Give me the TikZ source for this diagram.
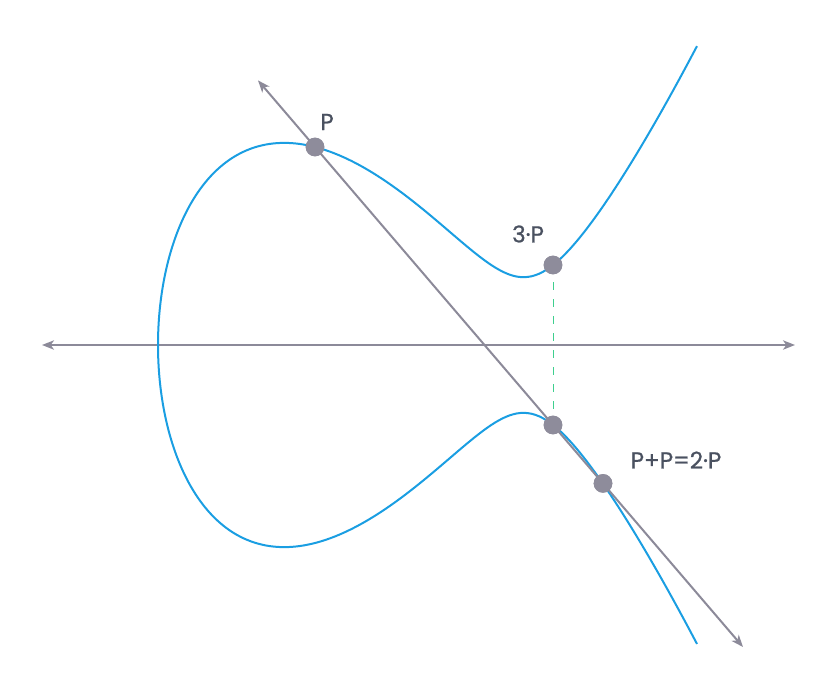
\documentclass[tikz,border=0pt]{standalone}
\usepackage{fontspec}
\setmainfont{Poppins}
\newfontfamily\lblfont{Poppins}[FakeBold=0.8]
\usetikzlibrary{arrows.meta}
\definecolor{curveblue}{HTML}{1A9EE2}
\definecolor{axisgray}{HTML}{8C8A99}
\definecolor{dotgray}{HTML}{8E8C9B}
\definecolor{labeltext}{HTML}{4A5160}
\definecolor{dashgreen}{HTML}{3ECF8E}
\tikzset{
  axisline/.style={draw=axisgray, line width=1.5pt, {Stealth[length=9pt,width=7pt,inset=2.5pt]}-{Stealth[length=9pt,width=7pt,inset=2.5pt]}},
  curveline/.style={draw=curveblue, line width=1.5pt},
  dotnode/.style={circle, fill=dotgray, inner sep=0pt, minimum size=14pt},
  ptlabel/.style={text=labeltext, font=\lblfont\fontsize{17.3pt}{19pt}\selectfont, inner sep=0pt},
  guide/.style={draw=dashgreen, line width=0.75pt, dash pattern=on 6pt off 6.75pt}
}
\begin{document}
\begin{tikzpicture}[x=0.75pt,y=-0.75pt]
\useasboundingbox (0,0) rectangle (817,692);
% x axis
\coordinate (axl) at (42,345);
\coordinate (axr) at (795,345);
\draw[axisline] (axl) -- (axr);
% elliptic curve
\draw[curveline] plot[domain=-23.216:23.216, samples=240, smooth, variable=\s]
  ({158+\s*\s}, {345 - \s*sqrt((0.072725*\s*\s)^2 - 3.9006*\s*\s + 731.74)});
% points
\node[dotnode] (P) at (315,147) {};
\node[dotnode] (Q3) at (553,265) {};
\node[dotnode] (N3) at (553,425) {};
\node[dotnode] (P2) at (603,483.4) {};
% secant/tangent line
\coordinate (lt) at (258,80.4);
\coordinate (lb) at (743,647);
\draw[axisline] (lt) -- (lb);
% dashed guide
\draw[guide] (Q3.center) -- (N3.center);
% redraw dots on top
\fill[dotgray] (P) circle[radius=7pt];
\fill[dotgray] (Q3) circle[radius=7pt];
\fill[dotgray] (N3) circle[radius=7pt];
\fill[dotgray] (P2) circle[radius=7pt];
% labels
\node[ptlabel] (lP) at (327,122) {P};
\node[ptlabel] (lQ3) at (528,234) {3·P};
\node[ptlabel] (lP2) at (676,460) {P+P=2·P};
\end{tikzpicture}
\end{document}
